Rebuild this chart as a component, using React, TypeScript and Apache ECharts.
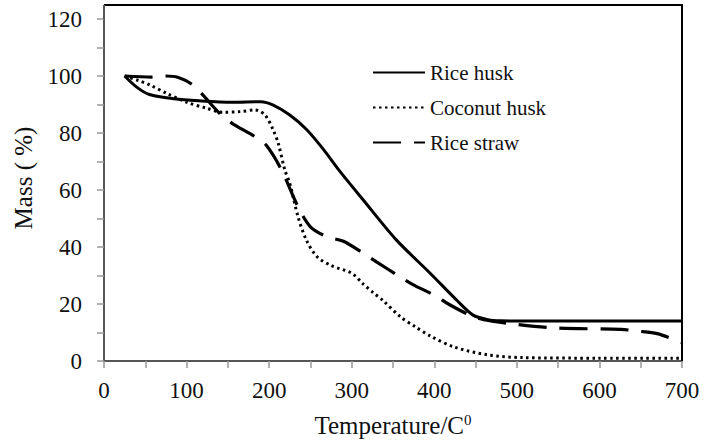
import React, { useEffect, useRef } from "react";
import * as echarts from "echarts";

const riceHuskT = [25, 40, 55, 85, 115, 155, 190, 205, 225, 245, 265, 285, 314, 354, 395, 427, 447, 465, 480, 520, 600, 700];
const riceHuskMass = [100, 96, 93.5, 92, 91.3, 90.8, 91, 89.8, 86.3, 81.3, 74.5, 66.8, 56.5, 42.5, 30.8, 21.4, 16.1, 14.5, 14.1, 14, 14, 14];

const coconutT = [25, 42, 56, 76, 100, 124, 143, 165, 183, 195, 205, 211, 219, 225, 235, 245, 258, 275, 300, 314, 326, 338, 359, 377, 395, 424, 464, 505, 600, 700];
const coconutMass = [100, 98.4, 96.8, 93.9, 90.8, 88.7, 87.3, 87.5, 88.1, 86.3, 81, 76.4, 67, 62.3, 50.6, 42.5, 36.6, 33.5, 30.8, 27, 24, 21.2, 15.5, 12, 8.8, 4.9, 2.2, 1.2, 1, 1];

const riceStrawT = [25, 58, 74, 90, 106, 118, 140, 155, 183, 197, 215, 235, 250, 270, 290, 314, 330, 358, 373, 403, 417, 443, 460, 492, 545, 626, 646, 670, 700];
const riceStrawMass = [100, 99.6, 100, 99.5, 97.2, 93.9, 86.9, 83.4, 78.7, 75.5, 67, 54.1, 47.1, 43.6, 42, 37.8, 34.8, 29.6, 27, 22.6, 20, 16.1, 14.5, 13.1, 11.6, 11.1, 10.5, 9.6, 6.5];

const seriesNames = ["Rice husk", "Coconut husk", "Rice straw"];
const xTicks = [0, 100, 200, 300, 400, 500, 600, 700];
const yTicks = [0, 20, 40, 60, 80, 100, 120];

const W = 714;
const H = 444;
const GRID = { left: 104, right: 32, top: 19, bottom: 83 };
const BOX_TOP = 5;
const FONT = "'Liberation Serif', 'Times New Roman', serif";

function pairs(xs: number[], ys: number[]) {
  return xs.map((x, i) => [x, ys[i]]);
}

export default function App() {
  const ref = useRef<HTMLDivElement>(null);
  useEffect(() => {
    if (!ref.current) return;
    const chart = echarts.init(ref.current, null, { renderer: "svg" });
    const right = W - GRID.right;
    const bottom = H - GRID.bottom;
    chart.setOption({
      animation: false,
      backgroundColor: "#ffffff",
      textStyle: { fontFamily: FONT },
      grid: { ...GRID, containLabel: false },
      legend: {
        orient: "vertical",
        left: 367,
        top: 57,
        itemWidth: 52,
        itemHeight: 14,
        itemGap: 14,
        data: seriesNames,
        itemStyle: { opacity: 0 },
        textStyle: { fontFamily: FONT, fontSize: 21, color: "#111" },
      },
      xAxis: {
        type: "value",
        min: 0,
        max: 700,
        interval: 50,
        name: "Temperature/C{sup|0}",
        nameLocation: "middle",
        nameGap: 51,
        nameTextStyle: {
          fontFamily: FONT,
          fontSize: 25,
          color: "#111",
          rich: {
            sup: { fontFamily: FONT, fontSize: 15, color: "#111", verticalAlign: "top", padding: [0, 0, 12, 0] },
          },
        },
        splitLine: { show: false },
        axisLine: { lineStyle: { color: "#555", width: 2 } },
        axisTick: { inside: false, length: 7, lineStyle: { color: "#999", width: 1.5 } },
        axisLabel: {
          margin: 18,
          fontFamily: FONT,
          fontSize: 23,
          color: "#111",
          formatter: (v: number) => (xTicks.includes(v) ? String(v) : ""),
        },
      },
      yAxis: {
        type: "value",
        min: 0,
        max: 120,
        interval: 10,
        name: "Mass ( %)",
        nameLocation: "middle",
        nameGap: 68,
        nameTextStyle: { fontFamily: FONT, fontSize: 25, color: "#111", padding: [0, 0, 0, 24] },
        splitLine: { show: false },
        axisLine: { show: true, lineStyle: { color: "#555", width: 2 } },
        axisTick: { show: true, inside: false, length: 7, lineStyle: { color: "#999", width: 1.5 } },
        axisLabel: {
          margin: 22,
          fontFamily: FONT,
          fontSize: 23,
          color: "#111",
          formatter: (v: number) => (yTicks.includes(v) ? String(v) : ""),
        },
      },
      graphic: [
        {
          type: "polyline",
          shape: { points: [[GRID.left, BOX_TOP], [right, BOX_TOP], [right, bottom]] },
          style: { stroke: "#000", lineWidth: 2, fill: null },
          z: 10,
        },
        {
          type: "line",
          shape: { x1: GRID.left, y1: BOX_TOP, x2: GRID.left, y2: GRID.top },
          style: { stroke: "#555", lineWidth: 2 },
          z: 10,
        },
      ],
      series: [
        {
          name: seriesNames[0],
          type: "line",
          data: pairs(riceHuskT, riceHuskMass),
          smooth: 0.3,
          symbol: "none",
          lineStyle: { color: "#000", width: 3, type: "solid" },
          itemStyle: { color: "#000" },
        },
        {
          name: seriesNames[1],
          type: "line",
          data: pairs(coconutT, coconutMass),
          smooth: 0.3,
          symbol: "none",
          lineStyle: { color: "#000", width: 3, type: [2.5, 3.5] },
          itemStyle: { color: "#000" },
        },
        {
          name: seriesNames[2],
          type: "line",
          data: pairs(riceStrawT, riceStrawMass),
          smooth: 0.3,
          symbol: "none",
          lineStyle: { color: "#000", width: 3.2, type: [28, 13] },
          itemStyle: { color: "#000" },
        },
      ],
    });
    return () => chart.dispose();
  }, []);
  return (
    <div
      ref={ref}
      style={{ position: "fixed", left: 0, top: 0, width: W, height: H, background: "#fff" }}
    />
  );
}
